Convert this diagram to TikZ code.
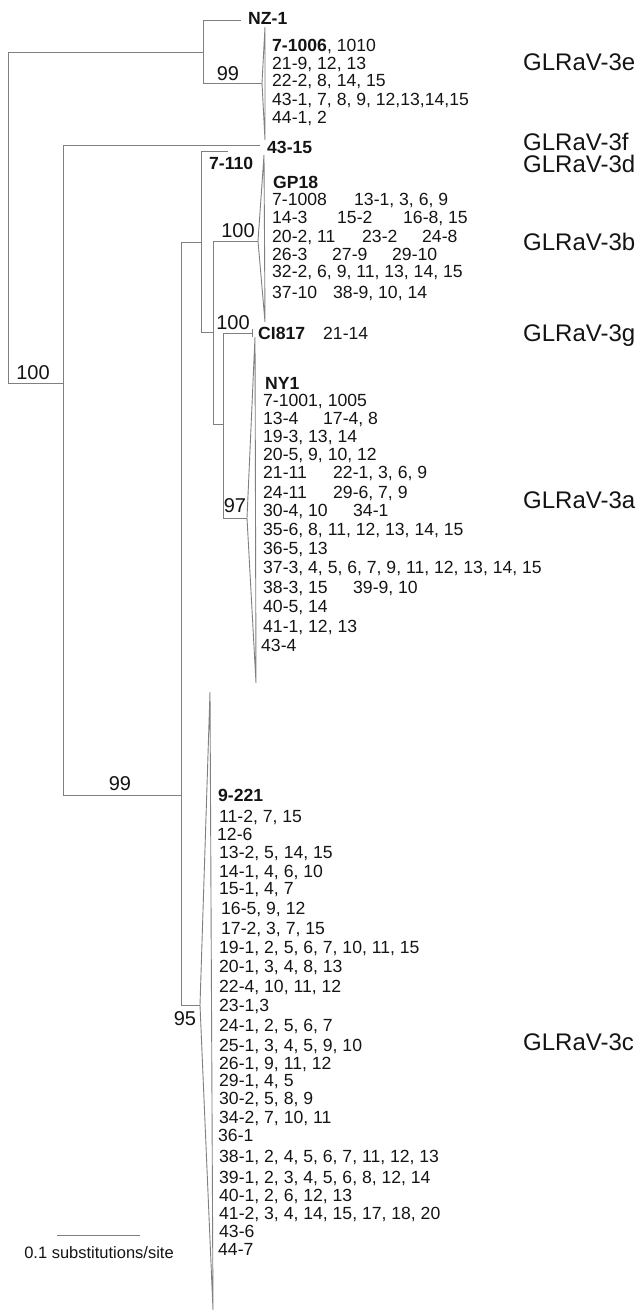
\documentclass[tikz,border=0pt]{standalone}
\usepackage{fontspec}
\setmainfont{Liberation Sans}
\definecolor{treegray}{RGB}{128,128,128}
\definecolor{txt}{RGB}{20,20,20}
\begin{document}
\begin{tikzpicture}[x=1pt,y=-1pt,
  br/.style={draw=treegray, line width=0.9pt},
  leaf/.style={anchor=base west, inner sep=0pt, yshift=-6pt, text=txt, font=\fontsize{17.6}{18}\selectfont},
  bleaf/.style={leaf, font=\fontsize{17.6}{18}\selectfont\bfseries},
  boot/.style={anchor=base, inner sep=0pt, yshift=-7pt, text=txt, font=\fontsize{20}{22}\selectfont},
  clade/.style={anchor=base west, inner sep=0pt, yshift=-8.5pt, text=txt, font=\fontsize{24}{26}\selectfont}]
\useasboundingbox (0,0) rectangle (640,1315);
% ---- tree nodes ----
\coordinate (root) at (8,52);
\coordinate (A) at (203,52);
\coordinate (nzend) at (241,20);
\coordinate (e3ap) at (262,83);
\coordinate (e3t) at (265,27);
\coordinate (e3b) at (265,140);
\coordinate (B) at (63,383);
\coordinate (f43) at (260,145);
\coordinate (C) at (181,795);
\coordinate (D) at (201,242);
\coordinate (d7) at (228,151);
\coordinate (E) at (213,332);
\coordinate (b3ap) at (258,241);
\coordinate (b3t) at (264,155);
\coordinate (b3b) at (265,322);
\coordinate (F) at (223,424);
\coordinate (ciend) at (252,333);
\coordinate (cit) at (252,329);
\coordinate (cib) at (252,337);
\coordinate (a3ap) at (247,518);
\coordinate (a3t) at (255,337);
\coordinate (a3b) at (256,683);
\coordinate (c3ap) at (200,1005);
\coordinate (c3t) at (210,692);
\coordinate (c3b) at (213,1310);
% ---- branches ----
\draw[br] (root) |- (A);
\draw[br] (root) |- (B);
\draw[br] (A) |- (nzend);
\draw[br] (A) |- (e3ap);
\draw[br] (e3ap) -- (e3t) -- (e3b) -- cycle;
\draw[br] (B) |- (f43);
\draw[br] (B) |- (C);
\draw[br] (C) |- (D);
\draw[br] (C) |- (c3ap);
\draw[br] (c3ap) -- (c3t) -- (c3b) -- cycle;
\draw[br] (D) |- (d7);
\draw[br] (D) |- (E);
\draw[br] (E) |- (b3ap);
\draw[br] (b3ap) -- (b3t) -- (b3b) -- cycle;
\draw[br] (E) |- (F);
\draw[br] (F) |- (ciend);
\draw[br] (cit) -- (cib);
\draw[br] (F) |- (a3ap);
\draw[br] (a3ap) -- (a3t) -- (a3b) -- cycle;
% ---- bootstrap values ----
\node[boot] (bs1) at (228,73) {99};
\node[boot] (bs2) at (33,372) {100};
\node[boot] (bs3) at (120,783) {99};
\node[boot] (bs4) at (238,230) {100};
\node[boot] (bs5) at (233,322) {100};
\node[boot] (bs6) at (235,505) {97};
\node[boot] (bs7) at (185,1018) {95};
% ---- 3e / 3f / 3d ----
\node[bleaf] (nz1) at (248,18) {NZ-1};
\node[leaf] (e1) at (272,45) {\textbf{7-1006}, 1010};
\node[leaf] (e2) at (272,63) {21-9, 12, 13};
\node[leaf] (e4) at (272,80) {22-2, 8, 14, 15};
\node[leaf] (e5) at (272,99) {43-1, 7, 8, 9, 12,13,14,15};
\node[leaf] (e6) at (272,117) {44-1, 2};
\node[bleaf] (f1) at (267,147) {43-15};
\node[bleaf] (d1) at (209,163) {7-110};
% ---- 3b ----
\node[bleaf] (b0) at (273,182) {GP18};
\node[leaf] (b1a) at (272,199) {7-1008};
\node[leaf] (b1b) at (354,199) {13-1, 3, 6, 9};
\node[leaf] (b2a) at (272,217) {14-3};
\node[leaf] (b2b) at (337,217) {15-2};
\node[leaf] (b2c) at (403,217) {16-8, 15};
\node[leaf] (b3a) at (272,236) {20-2, 11};
\node[leaf] (b3bb) at (362,236) {23-2};
\node[leaf] (b3c) at (422,236) {24-8};
\node[leaf] (b4a) at (272,254) {26-3};
\node[leaf] (b4b) at (332,254) {27-9};
\node[leaf] (b4c) at (392,254) {29-10};
\node[leaf] (b5a) at (272,271) {32-2, 6, 9, 11, 13, 14, 15};
\node[leaf] (b6a) at (272,292) {37-10};
\node[leaf] (b6b) at (333,292) {38-9, 10, 14};
% ---- 3g ----
\node[bleaf] (g1) at (258,333) {CI817};
\node[leaf] (g2) at (323,333) {21-14};
% ---- 3a ----
\node[bleaf] (a0) at (265,383) {NY1};
\node[leaf] (a1) at (263,400) {7-1001, 1005};
\node[leaf] (a2a) at (263,418) {13-4};
\node[leaf] (a2b) at (323,418) {17-4, 8};
\node[leaf] (a3) at (263,436) {19-3, 13, 14};
\node[leaf] (a4) at (263,454) {20-5, 9, 10, 12};
\node[leaf] (a5a) at (263,472) {21-11};
\node[leaf] (a5b) at (333,472) {22-1, 3, 6, 9};
\node[leaf] (a6a) at (263,492) {24-11};
\node[leaf] (a6b) at (333,492) {29-6, 7, 9};
\node[leaf] (a7a) at (263,510) {30-4, 10};
\node[leaf] (a7b) at (353,510) {34-1};
\node[leaf] (a8) at (263,529) {35-6, 8, 11, 12, 13, 14, 15};
\node[leaf] (a9) at (263,548) {36-5, 13};
\node[leaf] (a10) at (263,567) {37-3, 4, 5, 6, 7, 9, 11, 12, 13, 14, 15};
\node[leaf] (a11a) at (263,587) {38-3, 15};
\node[leaf] (a11b) at (353,587) {39-9, 10};
\node[leaf] (a12) at (263,606) {40-5, 14};
\node[leaf] (a13) at (263,626) {41-1, 12, 13};
\node[leaf] (a14) at (261,645) {43-4};
% ---- 3c ----
\node[bleaf] (c0) at (218,795) {9-221};
\node[leaf] (c1) at (219,816) {11-2, 7, 15};
\node[leaf] (c2) at (217,834) {12-6};
\node[leaf] (c3) at (219,852) {13-2, 5, 14, 15};
\node[leaf] (c4) at (219,871) {14-1, 4, 6, 10};
\node[leaf] (c5) at (219,888) {15-1, 4, 7};
\node[leaf] (c6) at (221,908) {16-5, 9, 12};
\node[leaf] (c7) at (221,928) {17-2, 3, 7, 15};
\node[leaf] (c8) at (219,947) {19-1, 2, 5, 6, 7, 10, 11, 15};
\node[leaf] (c9) at (219,966) {20-1, 3, 4, 8, 13};
\node[leaf] (c10) at (219,986) {22-4, 10, 11, 12};
\node[leaf] (c11) at (219,1005) {23-1,3};
\node[leaf] (c12) at (219,1025) {24-1, 2, 5, 6, 7};
\node[leaf] (c13) at (219,1045) {25-1, 3, 4, 5, 9, 10};
\node[leaf] (c14) at (219,1063) {26-1, 9, 11, 12};
\node[leaf] (c15) at (219,1080) {29-1, 4, 5};
\node[leaf] (c16) at (219,1098) {30-2, 5, 8, 9};
\node[leaf] (c17) at (219,1117) {34-2, 7, 10, 11};
\node[leaf] (c18) at (218,1135) {36-1};
\node[leaf] (c19) at (219,1156) {38-1, 2, 4, 5, 6, 7, 11, 12, 13};
\node[leaf] (c20) at (219,1177) {39-1, 2, 3, 4, 5, 6, 8, 12, 14};
\node[leaf] (c21) at (219,1195) {40-1, 2, 6, 12, 13};
\node[leaf] (c22) at (219,1213) {41-2, 3, 4, 14, 15, 17, 18, 20};
\node[leaf] (c23) at (219,1231) {43-6};
\node[leaf] (c24) at (218,1249) {44-7};
% ---- clade names ----
\node[clade] (L3e) at (523,62) {GLRaV-3e};
\node[clade] (L3f) at (523,142) {GLRaV-3f};
\node[clade] (L3d) at (523,164) {GLRaV-3d};
\node[clade] (L3b) at (523,242) {GLRaV-3b};
\node[clade] (L3g) at (523,333) {GLRaV-3g};
\node[clade] (L3a) at (523,500) {GLRaV-3a};
\node[clade] (L3c) at (523,1042) {GLRaV-3c};
% ---- scale bar ----
\coordinate (s1) at (57,1235);
\coordinate (s2) at (140,1235);
\draw[br] (s1) -- (s2);
\node[leaf, anchor=base, font=\fontsize{16.5}{18}\selectfont] (sbt) at (99,1252) {0.1 substitutions/site};
\end{tikzpicture}
\end{document}
